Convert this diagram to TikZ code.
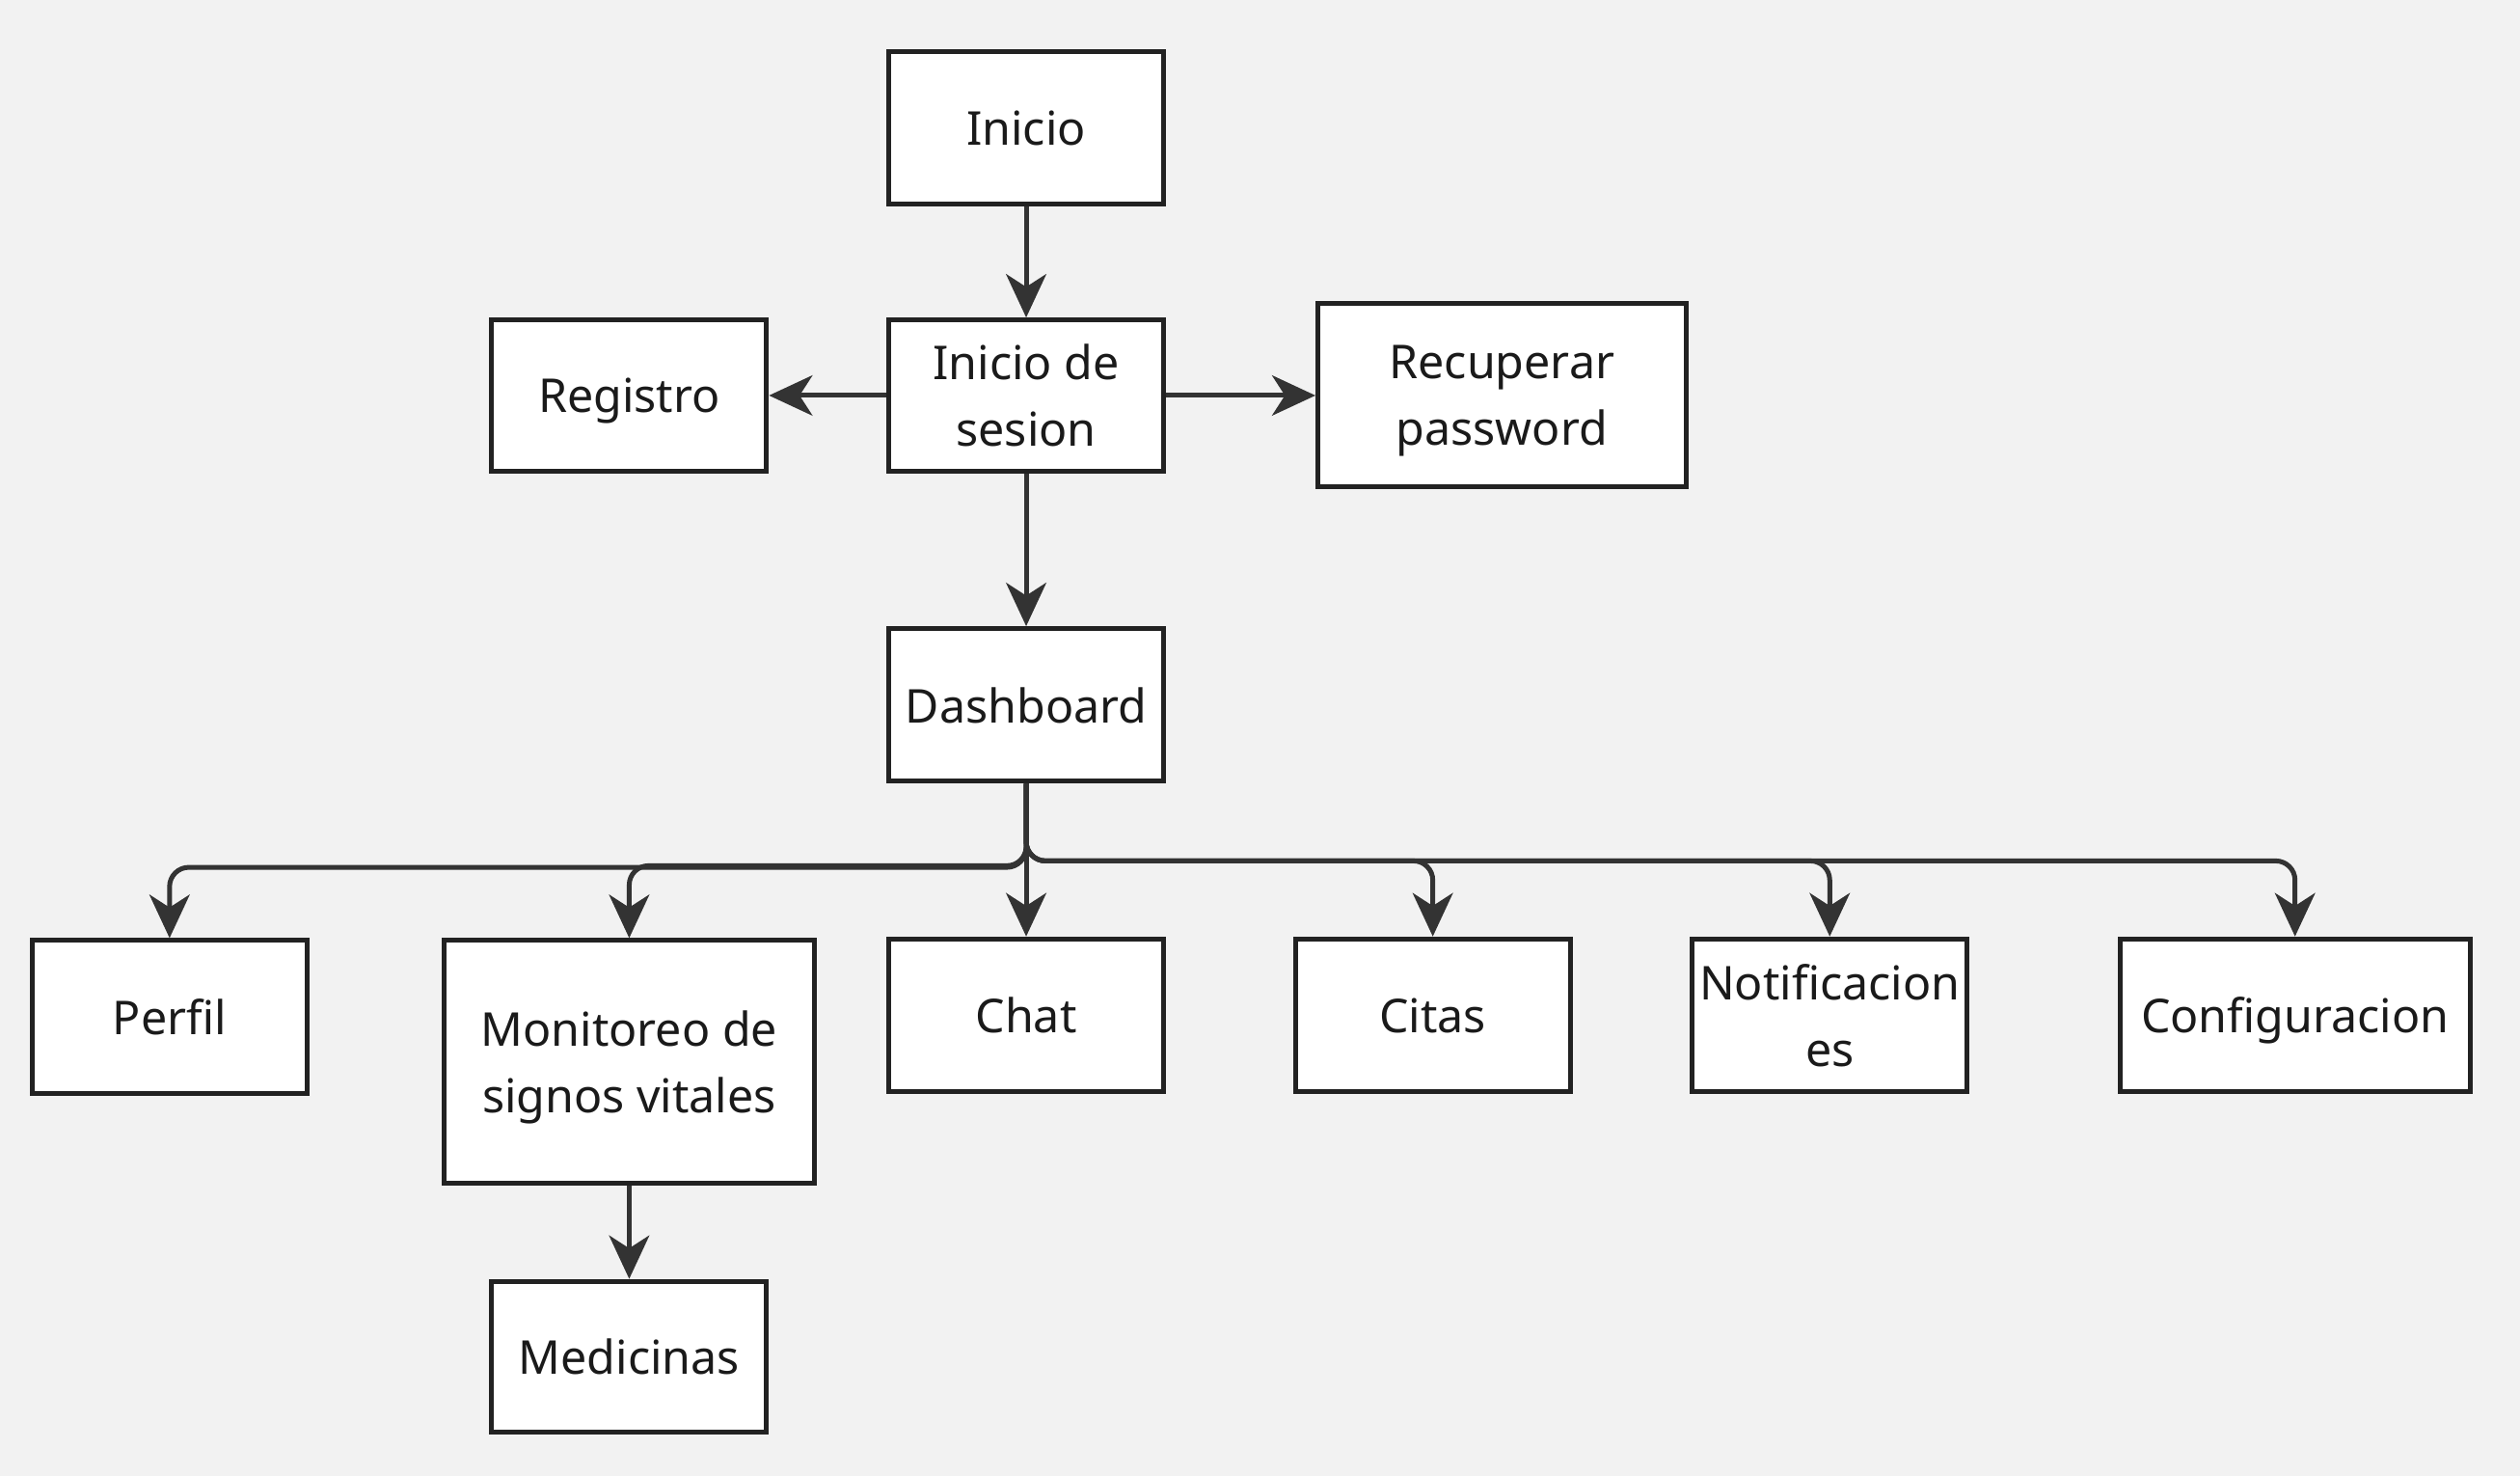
\documentclass[tikz,border=0pt]{standalone}
\usepackage{fontspec}
\setmainfont{Noto Sans}
\usetikzlibrary{arrows.meta}
\definecolor{bg}{HTML}{F2F2F2}
\definecolor{boxline}{HTML}{222222}
\definecolor{edgecol}{HTML}{333333}
\definecolor{txt}{HTML}{1A1A1A}
\tikzset{
  box/.style={draw=boxline, fill=white, line width=3pt, align=center, inner sep=0pt,
    text=txt, text depth=0pt, font=\fontsize{29}{41.5}\selectfont},
  edge/.style={draw=edgecol, line width=3pt, -{Stealth[length=27pt,width=25pt,inset=8pt]}},
}
\begin{document}
\begin{tikzpicture}[x=1pt,y=-1pt]
\fill[bg] (0,0) rectangle (1568,918);
\useasboundingbox (0,0) rectangle (1568,918);
\node[box, minimum width=171pt, minimum height=95pt] (inicio) at (638.5,79.5) {Inicio};
\node[box, minimum width=171pt, minimum height=94pt] (sesion) at (638.5,246) {Inicio de\\sesion};
\node[box, minimum width=171pt, minimum height=94pt] (registro) at (391.5,246) {Registro};
\node[box, minimum width=229pt, minimum height=114pt] (recuperar) at (934.5,246) {Recuperar\\password};
\node[box, minimum width=171pt, minimum height=95pt] (dash) at (638.5,438.5) {Dashboard};
\node[box, minimum width=171pt, minimum height=95pt] (perfil) at (105.5,632.5) {Perfil};
\node[box, minimum width=230pt, minimum height=151pt] (monitoreo) at (391.5,660.5) {Monitoreo de\\signos vitales};
\node[box, minimum width=171pt, minimum height=95pt] (chat) at (638.5,631.5) {Chat};
\node[box, minimum width=171pt, minimum height=95pt] (citas) at (891.5,631.5) {Citas};
\node[box, minimum width=171pt, minimum height=95pt] (notif) at (1138.5,631.5) {Notificacion\\es};
\node[box, minimum width=218pt, minimum height=95pt] (config) at (1428,631.5) {Configuracion};
\node[box, minimum width=171pt, minimum height=94pt] (medicinas) at (391.5,844) {Medicinas};

\draw[edge] (inicio) -- (sesion);
\draw[edge] (sesion) -- (registro);
\draw[edge] (sesion) -- (recuperar);
\draw[edge] (sesion) -- (dash);
\draw[edge, rounded corners=12pt] (dash.south) -- ++(0,52) -| (perfil.north);
\draw[edge, rounded corners=12pt] (dash.south) -- ++(0,51) -| (monitoreo.north);
\draw[edge] (dash) -- (chat);
\draw[edge, rounded corners=12pt] (dash.south) -- ++(0,48) -| (citas.north);
\draw[edge, rounded corners=12pt] (dash.south) -- ++(0,48) -| (notif.north);
\draw[edge, rounded corners=12pt] (dash.south) -- ++(0,48) -| (config.north);
\draw[edge] (monitoreo) -- (medicinas);
\end{tikzpicture}
\end{document}
